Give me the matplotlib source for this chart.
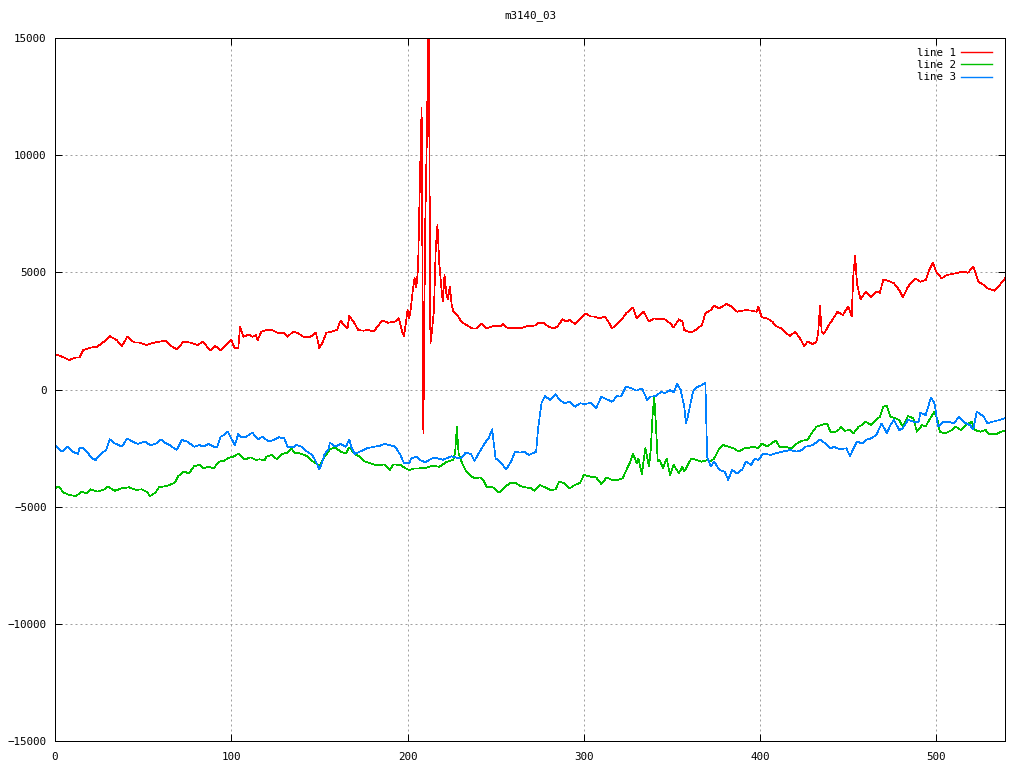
import numpy as np
import matplotlib
matplotlib.use("Agg")
import matplotlib.pyplot as plt

# values: (sample index, value)
line1 = [(0, 1515), (4, 1400), (8, 1260), (12, 1370), (14, 1370), (16, 1685), (20, 1785), (24, 1830),
         (29, 2110), (31, 2280), (35, 2110), (38, 1855), (41, 2250), (45, 2000), (48, 2000), (52, 1900),
         (54, 1950), (58, 2030), (63, 2085), (65, 1900), (69, 1715), (73, 2040), (77, 2000), (81, 1900),
         (84, 2040), (88, 1660), (91, 1855), (94, 1660), (97, 1900), (100, 2110), (102, 1760), (104, 1760),
         (105, 2680), (107, 2250), (110, 2355), (112, 2250), (114, 2325), (115, 2110), (117, 2470),
         (120, 2540), (123, 2540), (127, 2400), (130, 2400), (132, 2250), (135, 2470), (138, 2400),
         (141, 2250), (145, 2250), (148, 2425), (149, 2110), (150, 1760), (152, 2040), (154, 2425),
         (157, 2470), (160, 2540), (162, 2940), (164, 2750), (166, 2610), (167, 3135), (170, 2820),
         (172, 2540), (175, 2510), (178, 2540), (181, 2470), (183, 2710), (186, 2940), (189, 2850),
         (193, 2900), (195, 3040), (197, 2470), (198, 2280), (199, 2790), (200, 3390), (201, 3040),
         (202, 3535), (203, 4245), (204, 4745), (205, 4375), (206, 5170), (207, 8800), (208, 12000),
         (209, -1870), (210, 6800), (211, 10860), (212, 16500), (213, 1970), (214, 2575), (215, 3390),
         (216, 5950), (217, 7020), (218, 5400), (219, 4530), (220, 3750), (221, 4885), (222, 4100),
         (223, 3850), (224, 4400), (225, 3655), (226, 3320), (228, 3200), (230, 2965), (232, 2820),
         (235, 2680), (237, 2600), (239, 2610), (242, 2795), (245, 2610), (249, 2710), (253, 2710),
         (254, 2795), (257, 2610), (260, 2640), (264, 2610), (268, 2710), (271, 2710), (273, 2750),
         (274, 2850), (277, 2850), (280, 2680), (283, 2610), (285, 2680), (288, 2995), (290, 2895),
         (292, 2965), (295, 2795), (298, 3035), (301, 3250), (304, 3110), (306, 3110), (309, 3035),
         (312, 3110), (314, 2895), (316, 2610), (319, 2795), (322, 3035), (324, 3250), (328, 3505),
         (330, 3035), (334, 3320), (337, 2895), (340, 3035), (343, 2995), (346, 2995), (349, 2825),
         (351, 2650), (354, 2995), (356, 2895), (357, 2540), (361, 2425), (364, 2570), (367, 2750),
         (369, 3250), (372, 3390), (374, 3565), (377, 3465), (381, 3650), (384, 3535), (387, 3320),
         (390, 3365), (392, 3390), (395, 3365), (398, 3320), (399, 3535), (401, 3080), (404, 3035),
         (407, 2895), (409, 2710), (412, 2610), (415, 2400), (417, 2285), (420, 2470), (423, 2140),
         (425, 1855), (427, 2040), (430, 1940), (432, 2040), (433, 2400), (434, 3560), (435, 2470),
         (436, 2370), (437, 2470), (439, 2750), (441, 2965), (444, 3320), (447, 3180), (450, 3535),
         (452, 3135), (453, 4960), (454, 5700), (455, 4530), (457, 3850), (460, 4175), (463, 3960),
         (466, 4175), (468, 4130), (470, 4700), (474, 4600), (476, 4530), (479, 4245), (481, 3935),
         (484, 4390), (488, 4745), (491, 4600), (494, 4670), (496, 5100), (498, 5410), (500, 5030),
         (503, 4745), (506, 4885), (509, 4930), (511, 4960), (515, 5030), (518, 4985), (521, 5240),
         (524, 4600), (527, 4460), (529, 4320), (533, 4215), (536, 4460), (539, 4745)]

line2 = [(0, -4215), (2, -4145), (5, -4400), (8, -4500), (12, -4545), (15, -4360), (18, -4430),
         (20, -4260), (24, -4360), (28, -4260), (30, -4145), (34, -4320), (38, -4215), (42, -4175),
         (46, -4290), (49, -4260), (52, -4360), (54, -4545), (57, -4400), (59, -4175), (63, -4120),
         (65, -4075), (68, -3975), (70, -3690), (73, -3505), (76, -3575), (79, -3265), (82, -3220),
         (84, -3365), (87, -3290), (90, -3365), (93, -3080), (96, -3040), (98, -2940), (101, -2865),
         (104, -2750), (105, -2795), (107, -2940), (108, -2980), (111, -2895), (114, -3010),
         (116, -2980), (119, -3010), (120, -2865), (123, -2795), (126, -2980), (129, -2750),
         (132, -2695), (134, -2510), (136, -2695), (139, -2725), (143, -2840), (145, -3010),
         (148, -3150), (150, -3265), (153, -2865), (156, -2555), (159, -2470), (162, -2650),
         (165, -2725), (167, -2470), (170, -2750), (173, -2865), (176, -3080), (179, -3150),
         (182, -3220), (185, -3220), (187, -3195), (190, -3435), (192, -3195), (196, -3220),
         (199, -3365), (201, -3435), (204, -3365), (207, -3365), (210, -3350), (214, -3250),
         (218, -3300), (222, -3100), (226, -3000), (227, -2700), (228, -1600), (229, -2750),
         (231, -3150), (233, -3450), (236, -3690), (238, -3790), (241, -3750), (243, -3860),
         (245, -4175), (248, -4145), (250, -4290), (252, -4400), (255, -4175), (258, -4005),
         (261, -3975), (264, -4120), (267, -4175), (270, -4215), (272, -4320), (275, -4075),
         (278, -4175), (281, -4290), (284, -4260), (286, -3935), (289, -4005), (292, -4215),
         (295, -4075), (298, -3975), (300, -3650), (304, -3720), (307, -3750), (310, -4035),
         (313, -3750), (316, -3860), (319, -3860), (322, -3790), (324, -3465), (326, -3150),
         (328, -2750), (330, -3150), (331, -2940), (332, -3290), (333, -3605), (334, -3010),
         (335, -2510), (337, -3290), (338, -2580), (339, -1160), (340, -305), (341, -1585),
         (342, -3080), (343, -3010), (345, -3365), (347, -2940), (349, -3650), (351, -3220),
         (354, -3575), (356, -3290), (357, -3505), (359, -3220), (361, -2940), (364, -3010),
         (367, -3080), (370, -3010), (372, -3080), (374, -2940), (377, -2510), (379, -2370),
         (382, -2440), (385, -2510), (388, -2650), (391, -2510), (393, -2510), (396, -2440),
         (399, -2510), (401, -2300), (404, -2440), (407, -2270), (409, -2185), (411, -2440),
         (414, -2440), (418, -2510), (421, -2300), (424, -2185), (427, -2140), (429, -1900),
         (432, -1585), (435, -1515), (438, -1445), (440, -1800), (443, -1800), (445, -1700),
         (446, -1585), (448, -1760), (451, -1730), (453, -1870), (456, -1585), (458, -1515),
         (460, -1375), (463, -1515), (466, -1300), (468, -1160), (470, -730), (472, -705),
         (474, -1160), (477, -1230), (479, -1300), (481, -1585), (484, -1130), (487, -1230),
         (489, -1800), (492, -1515), (494, -1585), (496, -1300), (499, -945), (501, -1375),
         (502, -1800), (505, -1870), (509, -1730), (511, -1585), (514, -1730), (517, -1515),
         (520, -1375), (522, -1730), (525, -1800), (528, -1730), (530, -1900), (534, -1900),
         (537, -1800), (539, -1760)]

line3 = [(0, -2370), (4, -2650), (7, -2440), (10, -2650), (13, -2750), (14, -2470), (16, -2510),
         (18, -2650), (21, -2940), (23, -3010), (26, -2750), (29, -2580), (31, -2125), (34, -2300),
         (38, -2440), (41, -2085), (44, -2225), (47, -2325), (51, -2225), (54, -2370), (57, -2325),
         (60, -2125), (63, -2300), (65, -2370), (69, -2580), (72, -2155), (75, -2225), (79, -2440),
         (82, -2370), (84, -2440), (87, -2325), (90, -2440), (92, -2470), (94, -2010), (96, -1940),
         (98, -1800), (100, -2085), (102, -2370), (104, -1900), (106, -2040), (108, -2040),
         (110, -1940), (112, -1840), (115, -2125), (118, -2010), (121, -2225), (124, -2155),
         (127, -2040), (130, -2085), (132, -2440), (135, -2470), (137, -2370), (140, -2440),
         (143, -2650), (146, -2795), (148, -3080), (150, -3405), (151, -3220), (153, -2750),
         (155, -2580), (156, -2270), (159, -2440), (162, -2325), (165, -2440), (167, -2130),
         (168, -2440), (170, -2750), (173, -2650), (177, -2510), (181, -2440), (184, -2410),
         (187, -2325), (190, -2370), (193, -2440), (196, -2795), (198, -3150), (201, -3150),
         (202, -2940), (205, -2865), (207, -3010), (210, -3100), (215, -2900), (220, -3000),
         (225, -2850), (230, -2950), (233, -2700), (236, -2750), (238, -3040), (241, -2650),
         (244, -2270), (246, -2085), (248, -1700), (250, -2940), (252, -3040), (256, -3405),
         (259, -3040), (261, -2650), (264, -2695), (266, -2650), (269, -2795), (273, -2650),
         (274, -1730), (276, -590), (278, -280), (281, -450), (284, -190), (286, -420), (289, -590),
         (292, -520), (295, -735), (298, -590), (301, -620), (304, -560), (307, -805), (310, -305),
         (313, -420), (316, -520), (319, -280), (321, -305), (324, 120), (327, 50), (330, -50),
         (333, 50), (336, -450), (338, -305), (341, -280), (344, -90), (346, -160), (349, -20),
         (351, -135), (353, 235), (355, -20), (357, -735), (358, -1445), (359, -1160), (361, -450),
         (362, -90), (364, 90), (367, 190), (369, 290), (370, -2865), (372, -3290), (374, -3080),
         (377, -3435), (380, -3505), (382, -3860), (384, -3435), (387, -3575), (390, -3405),
         (392, -3080), (395, -3220), (397, -2940), (399, -3010), (402, -2725), (406, -2795),
         (409, -2725), (413, -2650), (417, -2580), (421, -2650), (424, -2580), (426, -2440),
         (430, -2370), (434, -2140), (437, -2300), (440, -2510), (442, -2440), (445, -2550),
         (449, -2510), (451, -2840), (455, -2225), (458, -2300), (460, -2155), (463, -2085),
         (466, -1940), (469, -1445), (472, -1870), (474, -1515), (476, -1300), (479, -1730),
         (481, -1655), (484, -1300), (487, -1375), (490, -1375), (491, -990), (494, -1090),
         (497, -335), (499, -590), (501, -1585), (504, -1375), (507, -1375), (510, -1445),
         (513, -1160), (516, -1415), (519, -1515), (521, -1700), (523, -945), (527, -1160),
         (529, -1445), (532, -1375), (536, -1300), (539, -1230)]

series = [("line 1", line1, "#ff0000"),
          ("line 2", line2, "#00c000"),
          ("line 3", line3, "#0080ff")]

plt.rcParams['font.family'] = ['DejaVu Sans Mono']
fs = 7.8
px = 0.72  # one pixel in points at 100 dpi

fig = plt.figure(figsize=(10.24, 7.68), dpi=100)
ax = fig.add_axes([55 / 1024, 27 / 768, 950 / 1024, 703 / 768])

for name, pts, col in series:
    pts = np.array(pts)
    ax.plot(pts[:, 0], pts[:, 1], color=col, linewidth=0.5, label=name, antialiased=False)

ax.set_xlim(0, 539)
ax.set_ylim(-15000, 15000)
ax.set_xticks(np.arange(0, 501, 100))
ax.set_yticks(np.arange(-15000, 15001, 5000))
ax.grid(True, color="#a0a0a0", linewidth=px, linestyle=(0, (2, 3)))
ax.tick_params(direction="in", length=5, width=px, top=True, right=True,
               labelsize=fs, color="black")
ax.tick_params(axis="y", pad=6)
ax.tick_params(axis="x", pad=8)
for s in ax.spines.values():
    s.set_linewidth(px)

ax.set_title("m3140_03", fontsize=fs, pad=14)

leg = ax.legend(loc="upper right", bbox_to_anchor=(0.9925, 0.994), frameon=False, markerfirst=False,
                fontsize=fs, handlelength=2.9, handletextpad=0.5, labelspacing=0.22, borderpad=0)
for h in leg.get_lines():
    h.set_linewidth(1.0)

fig.savefig("out.png", dpi=100)
